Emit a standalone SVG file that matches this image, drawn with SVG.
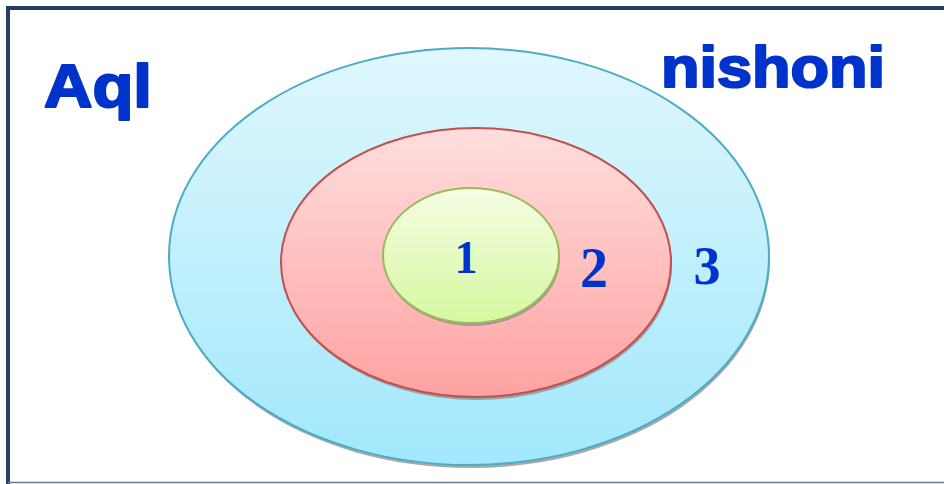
<svg xmlns="http://www.w3.org/2000/svg" width="944" height="484" viewBox="0 0 944 484">
<defs>
<linearGradient id="gOuter" x1="0" y1="0" x2="0" y2="1"><stop offset="0" stop-color="#e0f7fd"/><stop offset="1" stop-color="#a2e8fc"/></linearGradient>
<linearGradient id="gMid" x1="0" y1="0" x2="0" y2="1"><stop offset="0" stop-color="#ffdede"/><stop offset="1" stop-color="#ffa2a2"/></linearGradient>
<linearGradient id="gIn" x1="0" y1="0" x2="0" y2="1"><stop offset="0" stop-color="#f5fde3"/><stop offset="1" stop-color="#d6f8a0"/></linearGradient>
<style>
.shadow{fill:#8c8c8c;opacity:0.75}
.title{font-family:"Liberation Sans",Arial,sans-serif;font-weight:bold;fill:#0033cc;stroke:#0033cc;stroke-width:2.2;stroke-linejoin:round}
.num{font-family:"Liberation Serif","DejaVu Serif",serif;font-weight:bold;fill:#0033cc;text-anchor:middle}
</style>
</defs>
<rect x="0" y="0" width="944" height="484" fill="#ffffff"/>
<g id="frame">
<path d="M8 484 V8 H944" fill="none" stroke="#243f60" stroke-width="4"/>
<line x1="8" y1="482.5" x2="944" y2="482.5" stroke="#6b7b8c" stroke-width="1.5"/>
</g>
<g id="outer">
<ellipse class="shadow" cx="470" cy="259.5" rx="300" ry="208.5"/>
<ellipse cx="469" cy="256.5" rx="300" ry="208.5" fill="url(#gOuter)" stroke="#4aacc5" stroke-width="2"/>
<text class="num" x="707" y="284" font-size="54">3</text>
</g>
<g id="middle">
<ellipse class="shadow" cx="477" cy="265.5" rx="195" ry="134.5"/>
<ellipse cx="476" cy="262.5" rx="195" ry="134.5" fill="url(#gMid)" stroke="#c0504d" stroke-width="2"/>
<text class="num" x="594" y="287" font-size="56">2</text>
</g>
<g id="inner">
<ellipse class="shadow" cx="472" cy="258.5" rx="88" ry="67.5"/>
<ellipse cx="471" cy="255.5" rx="88" ry="67.5" fill="url(#gIn)" stroke="#9bbb59" stroke-width="2"/>
<text class="num" x="466" y="273" font-size="46">1</text>
</g>
<g id="labels">
<text class="title" x="44" y="107" font-size="62" textLength="108" lengthAdjust="spacingAndGlyphs">Aql</text>
<text class="title" x="661" y="87" font-size="58" textLength="224" lengthAdjust="spacingAndGlyphs">nishoni</text>
</g>
</svg>
